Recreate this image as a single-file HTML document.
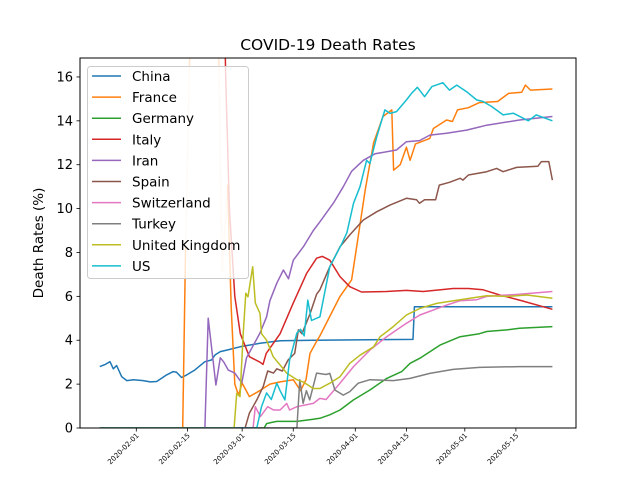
<!DOCTYPE html>
<html><head><meta charset="utf-8"><style>
body{margin:0;background:#fff}
svg{display:block;font-family:"DejaVu Sans","Liberation Sans",sans-serif}
</style></head><body>
<svg id="chart" width="640" height="480" viewBox="0 0 640 480">
<defs><clipPath id="plotclip"><rect x="80" y="58" width="496" height="370"/></clipPath></defs>
<rect x="0" y="0" width="640" height="480" fill="#fff"/>
<text x="328" y="50" font-size="15.5" text-anchor="middle" fill="#000">COVID-19 Death Rates</text>
<g id="series" clip-path="url(#plotclip)"></g>
<rect x="80" y="58" width="496" height="370" fill="none" stroke="#000" stroke-width="1"/>
<g id="yticks"></g>
<g id="xticks"></g>
<text transform="translate(43,243) rotate(-90)" font-size="13.5" text-anchor="middle">Death Rates (%)</text>
<g id="legend"></g>
</svg>
<script>
const countries = ["China","France","Germany","Italy","Iran","Spain","Switzerland","Turkey","United Kingdom","US"];
const colors = ["#1f77b4","#ff7f0e","#2ca02c","#d62728","#9467bd","#8c564b","#e377c2","#7f7f7f","#bcbd22","#17becf"];
const yTicks = [0,2,4,6,8,10,12,14,16];
const xTickDays = [10,24,39,53,70,84,100,114];
const xTickLabels = ["2020-02-01","2020-02-15","2020-03-01","2020-03-15","2020-04-01","2020-04-15","2020-05-01","2020-05-15"];
// [day since 2020-01-22, death rate %]
const chinaData = [[0,2.8],[1.5,2.9],[2.8,3.02],[3.7,2.7],[4.6,2.85],[6,2.34],[7.4,2.16],[9.2,2.2],[11.9,2.16],[13.8,2.1],[15.6,2.12],[18.3,2.42],[20.1,2.57],[21,2.55],[22.4,2.3],[23.8,2.42],[26,2.64],[28.8,3.02],[30.6,3.1],[31.6,3.33],[33,3.48],[34.8,3.55],[38.4,3.7],[43.9,3.86],[49.4,3.98],[58.5,4.0],[85.8,4.04],[86.2,5.53],[124,5.53]];
const franceData = [[0,0],[22.7,0],[23.5,8.3],[25,20],[30,25],[32.5,18],[33.5,7.1],[35,11.1],[36,5.5],[37,2.0],[38,1.5],[39,2.05],[41,1.43],[44,1.72],[46.6,2.0],[49.4,2.1],[53,2.2],[55,1.7],[56.5,2.2],[57.6,3.4],[59.4,3.95],[60.3,4.2],[65.8,6.0],[69,6.75],[70.4,8.3],[72.7,10.85],[75,13.0],[77.6,14.2],[80,14.5],[80.5,11.75],[82.3,12.0],[84,12.8],[85,12.2],[86.5,12.95],[90.4,13.2],[91.4,13.65],[95,14.04],[96.6,13.97],[98,14.5],[101,14.6],[104,14.83],[109,14.88],[112,15.25],[115.6,15.3],[116.6,15.63],[118,15.4],[124,15.45]];
const germanyData = [[0,0],[45,0],[45.7,0.2],[47,0.25],[48.5,0.3],[54,0.3],[58.5,0.4],[60.3,0.44],[63,0.6],[65.8,0.82],[69.5,1.28],[74,1.73],[78.6,2.26],[82.7,2.57],[85,2.95],[87.7,3.18],[93.2,3.78],[98.7,4.16],[104,4.3],[106,4.4],[111.5,4.47],[115,4.55],[124,4.62]];
const italyData = [[33.5,25],[34.5,16],[35.5,10],[37,6],[38.5,4.3],[41,3.25],[43.9,3.0],[44.7,2.9],[45.6,3.4],[49.4,4.3],[53,5.7],[56.7,7.06],[59.4,7.74],[61,7.82],[63,7.65],[65.8,6.9],[68.5,6.44],[71.7,6.2],[78.5,6.22],[84,6.27],[88.6,6.22],[96.8,6.36],[101,6.36],[105,6.3],[109.6,6.06],[115,5.83],[124,5.41]];
const iranData = [[0,0],[28.8,0],[29.7,5.0],[31.8,1.96],[33,3.2],[34,3.0],[35.2,2.64],[37,2.5],[38.9,2.05],[40.2,3.2],[43.9,4.33],[45.7,5.07],[46.6,5.8],[48.5,6.6],[50.3,7.2],[51.7,6.8],[53,7.65],[55.8,8.27],[58.5,9.0],[60.3,9.4],[64,10.25],[66.7,11.0],[69,11.7],[72.2,12.2],[75.4,12.5],[81.3,12.67],[84,13.05],[87.6,13.1],[90.4,13.35],[95,13.43],[100.5,13.58],[106,13.8],[115,14.04],[124,14.2]];
const spainData = [[0,0],[39.8,0],[41,0.68],[43,1.28],[44.8,1.9],[46,2.6],[47.6,2.5],[48.5,2.7],[50,2.6],[51.6,3.1],[53.4,3.4],[54.4,4.47],[55.4,4.3],[57.6,5.2],[59.4,6.1],[60.3,6.3],[63,7.35],[65.8,8.26],[68.5,8.8],[72.2,9.48],[75.9,9.86],[79.5,10.16],[84,10.47],[86.8,10.4],[87.6,10.24],[89,10.4],[92,10.4],[93,11.07],[95.8,11.2],[98.7,11.38],[99.5,11.3],[101,11.53],[106,11.68],[108.7,11.83],[110.5,11.68],[114.2,11.88],[120,11.93],[121,12.14],[123,12.14],[124,11.3]];
const switzerlandData = [[0,0],[42,0],[42.6,0.97],[44,0.52],[46,0.97],[47.6,0.82],[49.4,0.82],[51.2,1.12],[52,0.82],[54,0.97],[58.5,1.12],[60.3,1.35],[62,1.3],[65.8,2.04],[69.5,2.8],[74,3.55],[78.6,4.16],[84,4.77],[87.7,5.15],[95,5.6],[98.7,5.8],[103.3,5.85],[106,6.0],[115,6.1],[124,6.22]];
const turkeyData = [[0,0],[54,0],[54.8,2.2],[55.7,1.12],[56.6,1.7],[57.5,1.28],[59.4,2.5],[62,2.44],[63,2.49],[64.4,1.73],[66.7,1.5],[68.5,1.66],[70.8,2.04],[74,2.2],[80.4,2.16],[85,2.26],[90.4,2.49],[96.8,2.67],[104,2.76],[115,2.8],[124,2.8]];
const ukData = [[0,0],[36.8,0],[37.5,1.58],[38.4,1.43],[39.3,4.3],[40,6.14],[40.6,5.98],[41,6.4],[41.9,7.35],[42.6,5.7],[43.9,5.22],[44.3,4.3],[45.7,4.0],[47.5,3.25],[49.4,2.87],[51.2,2.5],[54,2.2],[55.7,2.1],[58.5,1.8],[60.3,1.8],[63,2.04],[65.8,2.34],[68.5,2.95],[71.3,3.32],[75,3.7],[76.8,4.16],[80.4,4.62],[84,5.15],[87.7,5.45],[92.3,5.68],[98.7,5.85],[106,6.03],[111.5,6.0],[117,6.06],[124,5.91]];
const usData = [[0,0],[43,0],[44.3,0.97],[45.7,1.6],[47,1.3],[48.5,2.04],[49.4,1.7],[50.7,1.28],[52,3.1],[54,4.33],[55,4.5],[56,4.2],[57,5.83],[58,4.9],[60.3,5.07],[63,7.35],[66.3,8.4],[67.7,8.9],[69.5,10.24],[71.3,11.0],[73.1,12.2],[74,12.05],[75.9,13.28],[78.1,14.5],[79.5,14.34],[81.3,14.42],[84,14.95],[85.4,15.25],[87,15.53],[89,15.1],[91,15.56],[94,15.74],[95.8,15.4],[97.8,15.63],[100.5,15.33],[103.3,14.95],[105,14.88],[107.4,14.65],[110.5,14.27],[113.3,14.35],[117.4,14.0],[119.6,14.27],[124,14.0]];
const allSeries = [chinaData,franceData,germanyData,italyData,iranData,spainData,switzerlandData,turkeyData,ukData,usData];
// day range drawn faintly (early noisy spike) per series index
const faintFrom = {1:23.5};
const faintTo = {1:35};

const NS = "http://www.w3.org/2000/svg";
const X0 = 99.8, PXDAY = 3.65, Y0 = 428, PXVAL = 21.94;
function xScale(d){return X0 + PXDAY*d;}
function yScale(v){return Y0 - PXVAL*v;}
function mk(tag, attrs, parent){const e=document.createElementNS(NS,tag);for(const k in attrs)e.setAttribute(k,attrs[k]);parent.appendChild(e);return e;}
function pts(arr){return arr.map(q=>xScale(q[0]).toFixed(1)+","+yScale(q[1]).toFixed(1)).join(" ");}

const sg = document.getElementById("series");
allSeries.forEach((data,i)=>{
  const name = countries[i].toLowerCase().replace(/ /g,'-');
  if (i in faintFrom) {
    const a = faintFrom[i], b = faintTo[i];
    const pre = data.filter(q=>q[0]<=a);
    const mid = data.filter(q=>q[0]>=a && q[0]<=b);
    const post = data.filter(q=>q[0]>=b);
    const fp = mk("polyline",{points:pts(mid),fill:"none",stroke:colors[i],"stroke-width":"1.5","stroke-opacity":"0.2","stroke-linejoin":"round"},sg);
    
    
    [pre,post].forEach(seg=>{
      if (seg.length<2) return;
      const p = mk("polyline",{points:pts(seg),fill:"none",stroke:colors[i],"stroke-width":"1.5","stroke-linejoin":"round"},sg);
      
      
    });
    return;
  }
  const p = mk("polyline",{points:pts(data),fill:"none",stroke:colors[i],"stroke-width":"1.5","stroke-linejoin":"round"},sg);
  
  
});

const yg = document.getElementById("yticks");
yTicks.forEach(v=>{
  const y = yScale(v);
  const t = mk("line",{x1:76.5,x2:80,y1:y,y2:y,stroke:"#000","stroke-width":"0.8"},yg);
  
  
  const l = mk("text",{x:73,y:y+4.5,"font-size":"13","text-anchor":"end"},yg);
  l.textContent = v;
  
  
});

const xg = document.getElementById("xticks");
xTickDays.forEach((d,i)=>{
  const x = xScale(d);
  const t = mk("line",{x1:x,x2:x,y1:428,y2:431.5,stroke:"#000","stroke-width":"0.8"},xg);
  
  
  const l = mk("text",{transform:"translate("+(x+3)+",436) rotate(-45)","font-size":"7","text-anchor":"end"},xg);
  l.textContent = xTickLabels[i];
  
  
});

const lg = document.getElementById("legend");
const box = mk("rect",{x:87.5,y:66.5,width:161,height:212,rx:3,fill:"#fff","fill-opacity":"0.8",stroke:"#ccc","stroke-width":"1"},lg);


countries.forEach((c,i)=>{
  const y = 76 + i*21.1;
  const ln = mk("line",{x1:92,x2:121,y1:y,y2:y,stroke:colors[i],"stroke-width":"1.5"},lg);
  
  
  const tx = mk("text",{x:132,y:y+5,"font-size":"13.5"},lg);
  tx.textContent = c;
  
  
});
</script>
</body></html>
